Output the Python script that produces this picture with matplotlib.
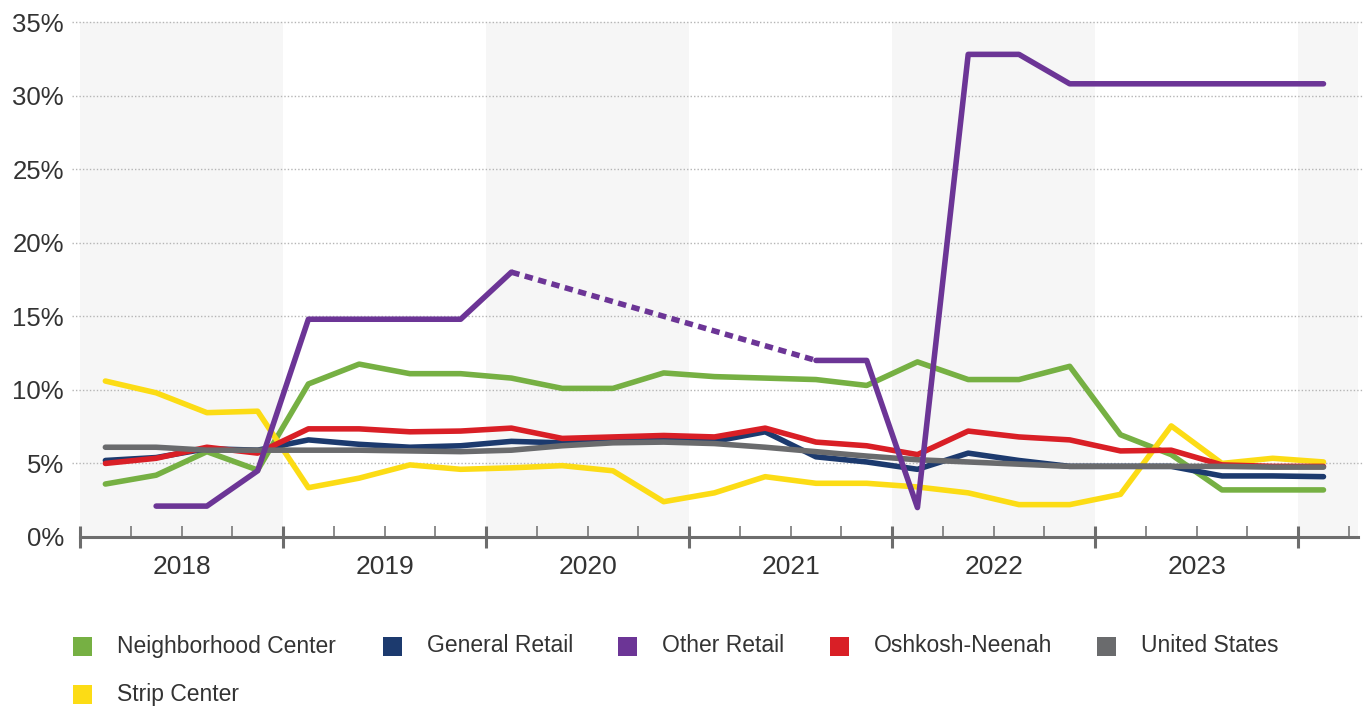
import numpy as np
import matplotlib.pyplot as plt
from matplotlib.patches import Rectangle

plt.rcParams['font.family'] = ['Liberation Sans', 'DejaVu Sans']

# quarterly vacancy rates, 2018 Q1 .. 2024 Q1
years = [2018, 2019, 2020, 2021, 2022, 2023]

neighborhood = [3.6, 4.2, 5.8, 4.55, 10.4, 11.75, 11.1, 11.1, 10.8, 10.1, 10.1, 11.15, 10.9,
                10.8, 10.7, 10.3, 11.9, 10.7, 10.7, 11.6, 6.95, 5.6, 3.2, 3.2, 3.2]
general = [5.2, 5.4, 6.0, 5.9, 6.6, 6.3, 6.1, 6.2, 6.5, 6.4, 6.5, 6.6, 6.5,
           7.15, 5.45, 5.1, 4.6, 5.7, 5.2, 4.8, 4.8, 4.8, 4.15, 4.15, 4.1]
other = [np.nan, 2.1, 2.1, 4.5, 14.8, 14.8, 14.8, 14.8, 18.0, np.nan, np.nan, np.nan, np.nan,
         np.nan, 12.0, 12.0, 2.0, 32.8, 32.8, 30.8, 30.8, 30.8, 30.8, 30.8, 30.8]
oshkosh = [5.0, 5.35, 6.1, 5.7, 7.35, 7.35, 7.15, 7.2, 7.4, 6.7, 6.8, 6.9, 6.8,
           7.4, 6.45, 6.2, 5.6, 7.2, 6.8, 6.6, 5.85, 5.9, 4.9, 4.8, 4.8]
united_states = [6.1, 6.1, 5.9, 5.9, 5.9, 5.9, 5.85, 5.8, 5.9, 6.2, 6.4, 6.45, 6.35,
                 6.1, 5.8, 5.5, 5.25, 5.1, 4.95, 4.8, 4.8, 4.8, 4.8, 4.75, 4.75]
strip = [10.6, 9.8, 8.45, 8.55, 3.35, 4.0, 4.9, 4.6, 4.7, 4.85, 4.5, 2.4, 3.0,
         4.1, 3.65, 3.65, 3.4, 3.0, 2.2, 2.2, 2.9, 7.55, 5.0, 5.35, 5.1]

names = ['Neighborhood Center', 'General Retail', 'Other Retail',
         'Oshkosh-Neenah', 'United States', 'Strip Center']
colors = ['#76b043', '#1c3a6e', '#6c3596', '#d91f26', '#6a6b6d', '#fcdc15']
series = [neighborhood, general, other, oshkosh, united_states, strip]

x = np.arange(len(neighborhood))

fig = plt.figure(figsize=(13.63, 7.11), dpi=100)
ax = fig.add_axes([80 / 1363, 1 - 537 / 711, (1358 - 80) / 1363, (537 - 22) / 711])
ax.set_xlim(-0.5, 24.68)
ax.set_ylim(0, 35)

# alternating year bands
for start in [-0.5, 7.5, 15.5, 23.5]:
    ax.axvspan(start, start + 4, color='#f6f6f6', lw=0, zorder=0)

# dotted gridlines
for v in range(5, 36, 5):
    ax.axhline(v, xmin=-8 / 1278, xmax=1.004, color='#b5b5b5', lw=1.0,
               ls=(0, (1, 1.5)), clip_on=False, zorder=1)

# draw order: green, yellow, navy, red, grey, purple
order = [0, 5, 1, 3, 4, 2]
for k in order:
    ax.plot(x, series[k], color=colors[k], lw=4.0, solid_capstyle='round',
            solid_joinstyle='round', zorder=3 + order.index(k))

# dotted bridge across the gap in Other Retail
vals = np.array(other)
gap_idx = np.where(np.isnan(vals))[0]
gap_idx = gap_idx[gap_idx > 1]
i0, i1 = gap_idx[0] - 1, gap_idx[-1] + 1
ax.plot([x[i0], x[i1]], [vals[i0], vals[i1]], color=colors[2], lw=4.0,
        ls=(0, (1.5, 1.0)), dash_capstyle='butt', zorder=9)

# axes styling
for s in ['top', 'right', 'left']:
    ax.spines[s].set_visible(False)
ax.spines['bottom'].set_color('#6d6d6d')
ax.spines['bottom'].set_linewidth(2.2)
ax.spines['bottom'].set_zorder(10)

ax.set_yticks(range(0, 36, 5))
ax.set_yticklabels([f'{v}%' for v in range(0, 36, 5)], fontsize=18.5, color='#333333')
ax.tick_params(axis='y', length=0, pad=11.5)

ax.set_xticks(np.arange(-0.5, 24.6, 4))
ax.set_xticks(np.arange(-0.5, 24.6, 1), minor=True)
ax.set_xticklabels([])
ax.tick_params(axis='x', which='major', direction='inout', length=15.8, width=2.2,
               color='#6d6d6d')
ax.tick_params(axis='x', which='minor', direction='in', length=8, width=1.1,
               color='#6d6d6d')

for j, yr in enumerate(years):
    ax.text(1.5 + 4 * j, -30 / 515, str(yr), transform=ax.get_xaxis_transform(),
            ha='center', va='center', fontsize=19, color='#333333')

# legend
sq_left = [73, 383, 618, 830, 1097, 73]
rows = [646, 646, 646, 646, 646, 694]
for k in range(6):
    fig.patches.append(Rectangle((sq_left[k] / 1363, 1 - (rows[k] + 9.5) / 711),
                                 19 / 1363, 19 / 711, transform=fig.transFigure,
                                 color=colors[k], lw=0))
    fig.text((sq_left[k] + 44) / 1363, 1 - rows[k] / 711, names[k], fontsize=16.5,
             color='#333333', va='center', ha='left')

fig.savefig('out.png', dpi=100)
